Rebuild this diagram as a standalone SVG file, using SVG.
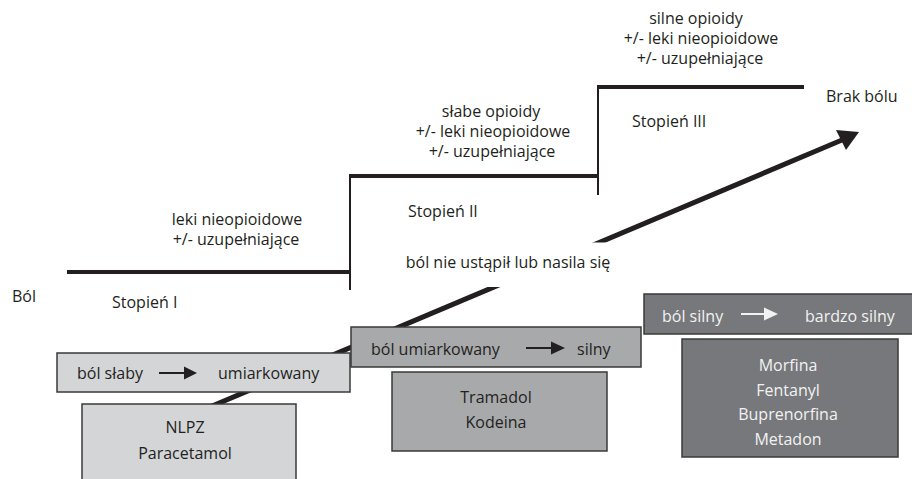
<svg xmlns="http://www.w3.org/2000/svg" width="912" height="479" viewBox="0 0 912 479">
<defs>
<style>
text{font-family:"Open Sans","Noto Sans","DejaVu Sans",sans-serif;font-size:16px;fill:#231f20}
.c{text-anchor:middle}
.w{fill:#f2f2f2}
.step{stroke:#231f20;stroke-width:4;fill:none}
.riser{stroke:#231f20;stroke-width:2;fill:none}
.box{stroke:#3a3a3a;stroke-width:1.5}
.l1{fill:#d4d5d7}
.l2{fill:#a8a9ab}
.l3{fill:#77787b}
</style>
</defs>
<rect width="912" height="479" fill="#fff"/>
<g id="steps">
<line class="step" x1="67" y1="272" x2="351" y2="272"/>
<line class="riser" x1="350" y1="176" x2="350" y2="290"/>
<line class="step" x1="349" y1="176" x2="599" y2="176"/>
<line class="riser" x1="598" y1="87" x2="598" y2="195"/>
<line class="step" x1="597" y1="87" x2="804" y2="87"/>
</g>
<g id="connectors">
<line x1="205" y1="409" x2="842" y2="140" stroke="#231f20" stroke-width="5"/>
<polygon points="859,132 836,130 846,150" fill="#231f20"/>
<rect x="380" y="242.5" width="262" height="44.5" fill="#fff"/>
</g>
<g id="labels">
<text x="12" y="302">Ból</text>
<text x="112" y="308">Stopień I</text>
<text class="c" x="237" y="225">leki nieopioidowe</text>
<text class="c" x="236" y="245">+/- uzupełniające</text>
<text x="408" y="217">Stopień II</text>
<text class="c" x="491" y="117">słabe opioidy</text>
<text class="c" x="493" y="137">+/- leki nieopioidowe</text>
<text class="c" x="492" y="157">+/- uzupełniające</text>
<text class="c" x="508" y="268">ból nie ustąpił lub nasila się</text>
<text x="632" y="127">Stopień III</text>
<text class="c" x="696" y="24">silne opioidy</text>
<text class="c" x="701" y="44">+/- leki nieopioidowe</text>
<text class="c" x="700" y="64">+/- uzupełniające</text>
<text x="826" y="102">Brak bólu</text>
</g>
<g id="box-slaby">
<rect class="box l1" x="57" y="353" width="293" height="39"/>
<text x="77" y="379">ból słaby</text>
<line x1="159" y1="373" x2="185" y2="373" stroke="#231f20" stroke-width="2"/>
<polygon points="184,366.5 197,373 184,379.5" fill="#231f20"/>
<text x="218" y="379">umiarkowany</text>
</g>
<g id="box-nlpz">
<rect class="box l1" x="82" y="404" width="214" height="80"/>
<text class="c" x="185" y="433">NLPZ</text>
<text class="c" x="185" y="459">Paracetamol</text>
</g>
<g id="box-umiarkowany">
<rect class="box l2" x="351" y="327" width="290" height="40"/>
<text x="371" y="355">ból umiarkowany</text>
<line x1="526" y1="348" x2="552" y2="348" stroke="#231f20" stroke-width="2"/>
<polygon points="551,341.5 565,348 551,354.5" fill="#231f20"/>
<text x="577" y="355">silny</text>
</g>
<g id="box-tramadol">
<rect class="box l2" x="392" y="372" width="215" height="79"/>
<text class="c" x="496" y="403">Tramadol</text>
<text class="c" x="496" y="428">Kodeina</text>
</g>
<g id="box-silny">
<rect class="box l3" x="644" y="294" width="270" height="40"/>
<text class="w" x="662" y="322">ból silny</text>
<line x1="741" y1="314" x2="765" y2="314" stroke="#f2f2f2" stroke-width="2"/>
<polygon points="764,307.5 778,314 764,320.5" fill="#f2f2f2"/>
<text class="w" x="805" y="322">bardzo silny</text>
</g>
<g id="box-morfina">
<rect class="box l3" x="682" y="339" width="216" height="118"/>
<text class="c w" x="788" y="371">Morfina</text>
<text class="c w" x="788" y="396">Fentanyl</text>
<text class="c w" x="788" y="420">Buprenorfina</text>
<text class="c w" x="788" y="445">Metadon</text>
</g>
</svg>
